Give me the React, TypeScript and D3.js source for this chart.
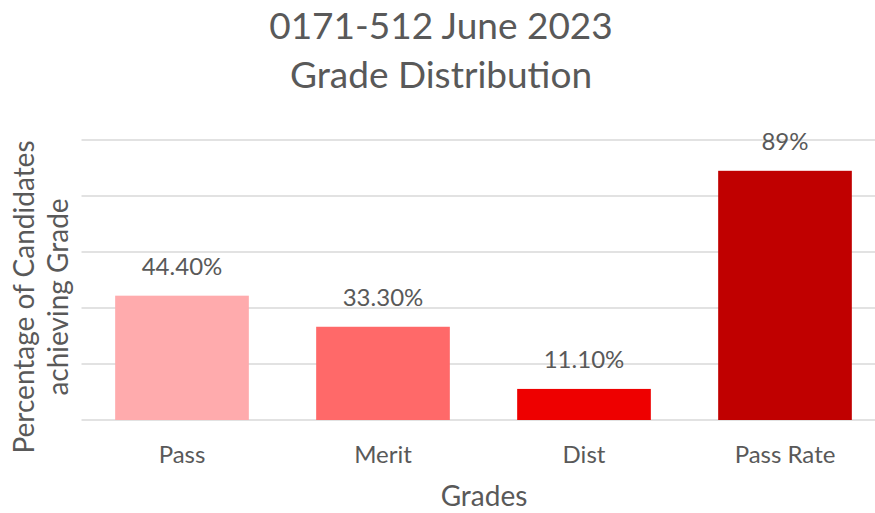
import React from "react";
import * as d3 from "d3";

const grades = ["Pass", "Merit", "Dist", "Pass Rate"];
const values = [44.4, 33.3, 11.1, 89];
const valueLabels = ["44.40%", "33.30%", "11.10%", "89%"];
const barColors = ["#FFABAD", "#FF6969", "#EE0000", "#C00000"];
const gridTicks = [0, 20, 40, 60, 80, 100];

const W = 875;
const H = 513;
const FONT = "Lato, 'Open Sans', sans-serif";
const TEXT = "#595959";

const App = () => {
  // band scale for the grades, linear for the percentage
  const x = d3
    .scaleBand()
    .domain(grades)
    .range([81.5, 885.5])
    .paddingInner(0.335)
    .paddingOuter(0.1675);

  const y = d3.scaleLinear().domain([0, 100]).range([420, 140]);

  return (
    <svg
      width={W}
      height={H}
      style={{ position: "absolute", left: 0, top: 0, display: "block", background: "#fff" }}
    >
      {/* Title */}
      <text x={441} y={39} textAnchor="middle" fontFamily={FONT} fontSize={37} fill={TEXT}>
        0171-512 June 2023
      </text>
      <text x={441} y={88} textAnchor="middle" fontFamily={FONT} fontSize={37} fill={TEXT}>
        Grade Distribution
      </text>

      {/* Gridlines */}
      {gridTicks.map((t) => (
        <line
          key={t}
          x1={81.5}
          x2={885.5}
          y1={y(t)}
          y2={y(t)}
          stroke="#d9d9d9"
          strokeWidth={1.5}
        />
      ))}

      {/* Bars */}
      {grades.map((g, i) => (
        <rect
          key={g}
          x={x(g)}
          y={y(values[i])}
          width={x.bandwidth()}
          height={y(0) - y(values[i])}
          fill={barColors[i]}
        />
      ))}

      {/* Data labels */}
      {grades.map((g, i) => (
        <text
          key={g}
          x={(x(g) ?? 0) + x.bandwidth() / 2}
          y={y(values[i]) - 21}
          textAnchor="middle"
          fontFamily={FONT}
          fontSize={24}
          fill={TEXT}
        >
          {valueLabels[i]}
        </text>
      ))}

      {/* Category labels */}
      {grades.map((g) => (
        <text
          key={g}
          x={(x(g) ?? 0) + x.bandwidth() / 2}
          y={463}
          textAnchor="middle"
          fontFamily={FONT}
          fontSize={24}
          fill={TEXT}
        >
          {g}
        </text>
      ))}

      {/* Axis titles */}
      <text x={484} y={506} textAnchor="middle" fontFamily={FONT} fontSize={28} fill={TEXT}>
        Grades
      </text>
      <g transform="translate(0, 297) rotate(-90)">
        <text x={0} y={34} textAnchor="middle" fontFamily={FONT} fontSize={28} fill={TEXT}>
          Percentage of Candidates
        </text>
        <text x={0} y={68} textAnchor="middle" fontFamily={FONT} fontSize={28} fill={TEXT}>
          achieving Grade
        </text>
      </g>
    </svg>
  );
};

export default App;
